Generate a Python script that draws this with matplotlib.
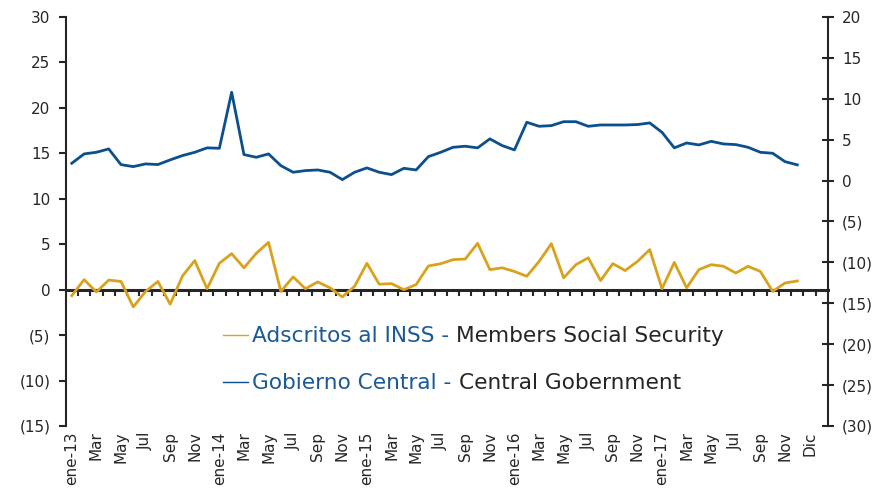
import numpy as np
import matplotlib
matplotlib.use('Agg')
import matplotlib.pyplot as plt
from matplotlib.ticker import FuncFormatter
from matplotlib.lines import Line2D

# monthly series, ene-13 .. dic-17
inss = [-0.66, 1.1, -0.26, 1.05, 0.9, -1.9, -0.2, 0.9, -1.6, 1.5,
        3.2, 0.1, 2.9, 3.96, 2.4, 4.0, 5.2, -0.2, 1.4, 0.1,
        0.85, 0.2, -0.8, 0.37, 2.9, 0.6, 0.66, 0.0, 0.55, 2.6,
        2.85, 3.3, 3.37, 5.1, 2.2, 2.4, 2.0, 1.47, 3.1, 5.06,
        1.3, 2.75, 3.5, 1.0, 2.86, 2.1, 3.1, 4.4, 0.1, 3.0,
        0.2, 2.2, 2.75, 2.57, 1.83, 2.57, 2.0, -0.2, 0.73, 0.95]
gobierno = [2.12, 3.26, 3.46, 3.87, 1.95, 1.71, 2.04, 1.96, 2.53, 3.06,
            3.46, 4.0, 3.95, 10.8, 3.18, 2.85, 3.26, 1.83, 1.02, 1.22,
            1.3, 1.02, 0.12, 1.02, 1.55, 1.02, 0.73, 1.5, 1.3, 2.93,
            3.46, 4.07, 4.2, 4.0, 5.1, 4.28, 3.75, 7.13, 6.64, 6.72,
            7.2, 7.2, 6.64, 6.8, 6.8, 6.8, 6.85, 7.05, 5.9, 4.0,
            4.6, 4.36, 4.8, 4.48, 4.4, 4.07, 3.46, 3.34, 2.32, 1.92]

tick_labels = ['ene-13', 'Mar', 'May', 'Jul', 'Sep', 'Nov',
               'ene-14', 'Mar', 'May', 'Jul', 'Sep', 'Nov',
               'ene-15', 'Mar', 'May', 'Jul', 'Sep', 'Nov',
               'ene-16', 'Mar', 'May', 'Jul', 'Sep', 'Nov',
               'ene-17', 'Mar', 'May', 'Jul', 'Sep', 'Nov', 'Dic']

gold = '#DAA21C'
blue = '#0B4F8C'
text_blue = '#1B5A96'
dark = '#262626'
legend_size = 15.6

x = np.arange(len(inss))

fig = plt.figure(figsize=(8.79, 4.93), dpi=100)
ax = fig.add_axes([0.0747, 0.136, 0.8673, 0.8295])
ax2 = ax.twinx()

ax.plot(x, inss, color=gold, lw=2.0, solid_joinstyle='round', zorder=3)
ax2.plot(x, gobierno, color=blue, lw=2.0, solid_joinstyle='round')

ax.set_xlim(-0.5, 61.5)
ax.set_ylim(-15, 30)
ax2.set_ylim(-30, 20)
ax.set_yticks(np.arange(-15, 31, 5))
ax2.set_yticks(np.arange(-30, 21, 5))

paren = FuncFormatter(lambda v, p: f'({abs(int(round(v)))})' if v < 0 else f'{int(round(v))}')
ax.yaxis.set_major_formatter(paren)
ax2.yaxis.set_major_formatter(paren)

for s in ['top', 'right']:
    ax.spines[s].set_visible(False)
for s in ['top', 'left', 'bottom']:
    ax2.spines[s].set_visible(False)
ax.spines['bottom'].set_position(('data', 0))
ax.spines['bottom'].set_linewidth(2.2)
ax.spines['bottom'].set_color(dark)
ax.spines['left'].set_linewidth(1.5)
ax.spines['left'].set_color(dark)
ax2.spines['right'].set_linewidth(1.5)
ax2.spines['right'].set_color(dark)

# category boundary ticks on the zero line
ax.set_xticks(np.arange(0.5, 61, 1))
ax.tick_params(axis='x', direction='out', length=4, width=1.5, color=dark, labelbottom=False)
ax.tick_params(axis='y', direction='out', length=5, width=1.5, color=dark,
               labelsize=11, labelcolor=dark, pad=6)
ax2.tick_params(axis='y', direction='inout', length=8, width=1.5, color=dark,
                labelsize=11, labelcolor=dark, pad=6)

# month labels at the bottom of the plot
sec = ax.secondary_xaxis('bottom')
sec.set_xticks(np.arange(0, 61, 2), tick_labels)
sec.tick_params(length=0, labelsize=11, labelcolor=dark, pad=4, labelrotation=90)
sec.spines['bottom'].set_visible(False)

handles = [Line2D([], [], color=gold, lw=1), Line2D([], [], color=blue, lw=1)]
leg = ax.legend(handles, ['Adscritos al INSS -', 'Gobierno Central -'],
                loc='center left', bbox_to_anchor=(0.206, 0.162), frameon=False,
                fontsize=legend_size, handlelength=1.15, handletextpad=0.22,
                labelspacing=1.25, borderpad=0, borderaxespad=0)
for t in leg.get_texts():
    t.set_color(text_blue)

# place the legend first so the english part can follow each label
fig.canvas.draw()
for t, rest in zip(leg.get_texts(), ['Members Social Security', 'Central Gobernment']):
    bb = t.get_window_extent()
    fig.text(bb.x1 + 0.318 * legend_size * 100 / 72, bb.y0, rest, transform=None,
             va='bottom', ha='left', fontsize=legend_size, color=dark)

fig.savefig('out.png', dpi=100)
